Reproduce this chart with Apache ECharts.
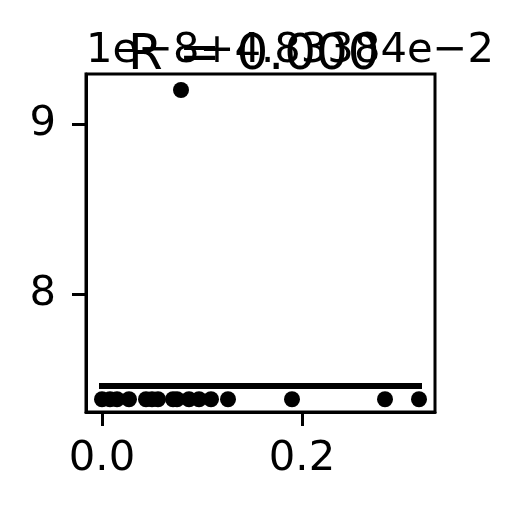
<!DOCTYPE html>
<html><head><meta charset="utf-8">
<script src="https://cdn.jsdelivr.net/npm/echarts@6/dist/echarts.min.js"></script>
<style>html,body{margin:0;padding:0;background:#fff}#c{width:523px;height:513px}</style>
</head><body><div id="c"></div>
<script>
// y values in units of 1e-8, relative to offset 4.83384e-2
const xValues = [0.000, 0.008, 0.015, 0.027, 0.044, 0.050, 0.056, 0.071, 0.075, 0.087, 0.097, 0.109, 0.126, 0.190, 0.283, 0.317, 0.079];
const yValues = [7.381, 7.381, 7.381, 7.381, 7.381, 7.381, 7.381, 7.381, 7.381, 7.381, 7.381, 7.381, 7.381, 7.381, 7.381, 7.381, 9.2];
const fitX = [0.0, 0.317];
const fitY = [7.459, 7.459];
const xTicks = [0.0, 0.2];
const yTicks = [8, 9];
const titleText = 'R = 0.000';
const offsetText = '1e\u22128+4.83384e\u22122';

const FONT = 'DejaVu Sans';
const chart = echarts.init(document.getElementById('c'), null, {renderer: 'canvas'});
const axisCommon = {
  axisLine: {show: true, onZero: false, lineStyle: {color: '#000', width: 3}},
  axisTick: {show: true, inside: false, length: 14, lineStyle: {color: '#000', width: 3}},
  splitLine: {show: false},
};
chart.setOption({
  animation: false,
  grid: {left: 86, right: 88, top: 74, bottom: 101, show: true, borderColor: '#000', borderWidth: 3, containLabel: false},
  xAxis: Object.assign({
    type: 'value', min: -0.016, max: 0.333,
    axisLabel: {customValues: xTicks, margin: 26, color: '#000', fontSize: 41.7, fontFamily: FONT, formatter: v => v.toFixed(1)},
  }, axisCommon, {axisTick: Object.assign({}, axisCommon.axisTick, {customValues: xTicks})}),
  yAxis: Object.assign({
    type: 'value', min: 7.306, max: 9.294,
    axisLabel: {customValues: yTicks, margin: 30, color: '#000', fontSize: 41.7, fontFamily: FONT, formatter: v => String(Math.round(v))},
  }, axisCommon, {axisTick: Object.assign({}, axisCommon.axisTick, {customValues: yTicks})}),
  graphic: [
    {type: 'text', x: 86, y: 51.3, style: {text: offsetText, fill: '#000', font: '41.7px "DejaVu Sans"', textAlign: 'left', textVerticalAlign: 'middle'}},
    {type: 'text', x: 128, y: 55.8, style: {text: titleText, fill: '#000', font: '50px "DejaVu Sans"', textAlign: 'left', textVerticalAlign: 'middle'}},
  ],
  series: [
    {type: 'scatter', data: xValues.map((x, i) => [x, yValues[i]]), symbolSize: 16, itemStyle: {color: '#000', opacity: 1}, z: 2},
    {type: 'line', data: fitX.map((x, i) => [x, fitY[i]]), showSymbol: false, symbol: 'none', lineStyle: {color: '#000', width: 6, cap: 'square'}, z: 3},
  ]
});
</script></body></html>
